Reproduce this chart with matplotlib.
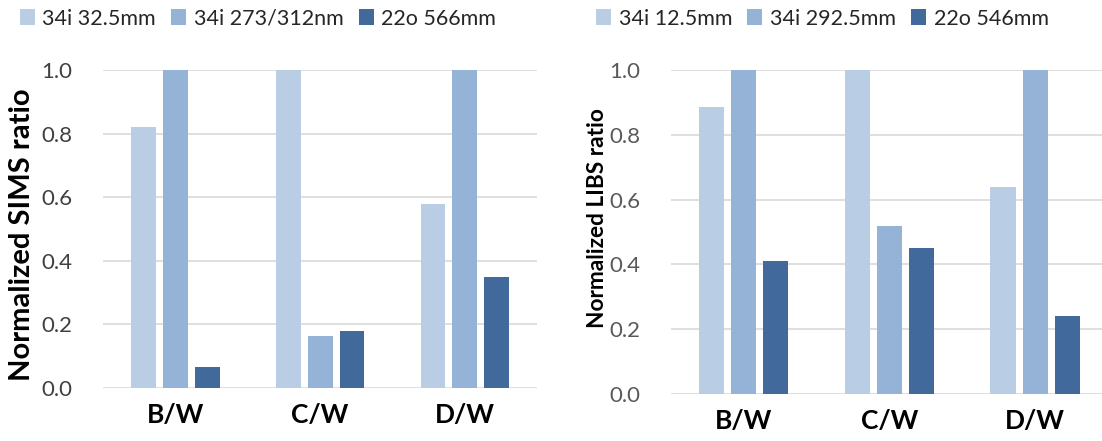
import matplotlib
matplotlib.use("Agg")
import matplotlib.pyplot as plt
import numpy as np

categories = ["B/W", "C/W", "D/W"]

sims_labels = ["34i 32.5mm", "34i 273/312nm", "22o 566mm"]
sims_values = [
    [0.82, 1.0, 0.58],
    [1.0, 0.165, 1.0],
    [0.065, 0.18, 0.35],
]

libs_labels = ["34i 12.5mm", "34i 292.5mm", "22o 546mm"]
libs_values = [
    [0.885, 1.0, 0.64],
    [1.0, 0.52, 1.0],
    [0.41, 0.45, 0.24],
]

colors = ["#B9CDE5", "#95B3D7", "#41699C"]
yticks = [0.0, 0.2, 0.4, 0.6, 0.8, 1.0]

plt.rcParams["font.family"] = ["Lato", "DejaVu Sans"]

fig = plt.figure(figsize=(11.02, 4.41), dpi=100)
ax1 = fig.add_axes([0.0935, 0.120, 0.394, 0.721])
ax2 = fig.add_axes([0.609, 0.1066, 0.391, 0.7344])


def draw_panel(ax, values, labels, ylabel, ylabel_size, ylabel_pos, tick_color,
               xlim_right, legend_x, xpad):
    x = np.arange(len(categories))
    width = 0.172
    step = 0.22
    for i, (vals, lab) in enumerate(zip(values, labels)):
        ax.bar(x + (i - 1) * step, vals, width, color=colors[i], label=lab, zorder=3)
    ax.set_xlim(-0.5, xlim_right)
    ax.set_ylim(0, 1.0)
    ax.set_yticks(yticks)
    ax.set_yticklabels([f"{t:.1f}" for t in yticks], fontsize=16, color=tick_color)
    ax.set_xticks(x)
    ax.set_xticklabels(categories, fontsize=19, fontweight="bold", color="black")
    ax.tick_params(axis="both", length=0)
    ax.tick_params(axis="y", pad=22)
    ax.tick_params(axis="x", pad=xpad)
    ax.grid(axis="y", color="#D9D9D9", linewidth=1.2, zorder=0)
    ax.set_axisbelow(True)
    for s in ax.spines.values():
        s.set_visible(False)
    ax.set_ylabel(ylabel, fontsize=ylabel_size, fontweight="bold", color="black")
    ax.yaxis.set_label_coords(ylabel_pos[0], ylabel_pos[1], transform=fig.transFigure)
    ax.legend(loc="center left", bbox_to_anchor=(legend_x, 0.958),
              bbox_transform=fig.transFigure, ncol=3, frameon=False,
              fontsize=15.5, handlelength=0.7, handleheight=0.7,
              handletextpad=0.35, columnspacing=0.7, labelcolor="#262626",
              borderaxespad=0, borderpad=0)


draw_panel(ax1, sims_values, sims_labels, "Normalized SIMS ratio", 21,
           (35 / 1102, 1 - 235 / 441), "#404040", 2.5, 0.018, 11)
draw_panel(ax2, libs_values, libs_labels, "Normalized LIBS ratio", 16.3,
           (608 / 1102, 1 - 218 / 441), "#595959", 2.46, 0.541, 11)

fig.savefig("out.png", dpi=100)
